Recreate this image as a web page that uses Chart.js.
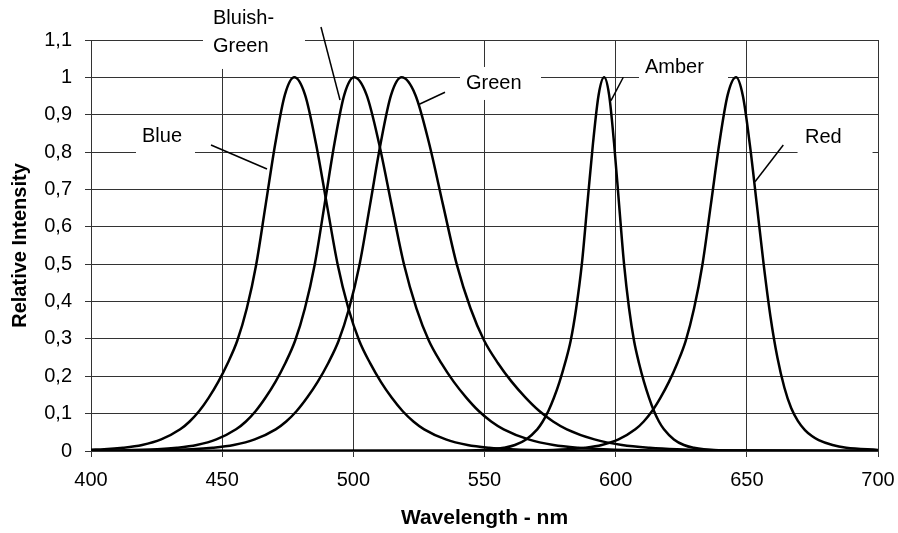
<!DOCTYPE html>
<html>
<head>
<meta charset="utf-8">
<script src="https://cdn.jsdelivr.net/npm/chart.js@4.4.1/dist/chart.umd.min.js"></script>
<style>
html, body { margin: 0; padding: 0; background: #fff; }
#wrap { width: 898px; height: 533px; }
</style>
</head>
<body>
<div id="wrap"><canvas id="chart" width="898" height="533"></canvas></div>
<script>
// ---- data (wavelength nm / relative intensity) ----
const xTicks = [400, 450, 500, 550, 600, 650, 700];
const yTicks = [0, 0.1, 0.2, 0.3, 0.4, 0.5, 0.6, 0.7, 0.8, 0.9, 1, 1.1];

const blueNm  = [400, 405, 412.25, 419.5, 426.75, 434, 437.6, 441.25, 444.9, 448.5, 452.1, 455.75, 459.4, 463, 466.6, 470.25, 473.9, 477.5, 481.6, 485.75, 489.9, 494, 498.1, 502.25, 506.4, 510.5, 514.6, 518.75, 522.9, 527, 535.25, 543.5, 551.75, 560, 576.5, 620, 700];
const blueVal = [0.0035, 0.0045, 0.0085, 0.016, 0.031, 0.058, 0.079, 0.107, 0.143, 0.185, 0.235, 0.295, 0.382, 0.5, 0.66, 0.823, 0.953, 1, 0.953, 0.823, 0.66, 0.5, 0.382, 0.295, 0.235, 0.185, 0.143, 0.107, 0.079, 0.058, 0.031, 0.016, 0.0085, 0.0045, 0.0015, 0.0004, 0.0001];

const bluishNm  = [400, 410.3, 425.3, 432.8, 440.3, 447.8, 455.3, 459.05, 462.8, 466.55, 470.3, 474.05, 477.8, 481.55, 485.3, 489.05, 492.8, 496.55, 500.3, 505.05, 509.8, 514.55, 519.3, 524.05, 528.8, 533.55, 538.3, 543.05, 547.8, 552.55, 557.3, 566.8, 576.3, 585.8, 595.3, 614.3, 700];
const bluishVal = [0.001, 0.0015, 0.0045, 0.0085, 0.016, 0.031, 0.058, 0.079, 0.107, 0.143, 0.185, 0.235, 0.295, 0.382, 0.5, 0.66, 0.823, 0.953, 1, 0.953, 0.823, 0.66, 0.5, 0.382, 0.295, 0.235, 0.185, 0.143, 0.107, 0.079, 0.058, 0.031, 0.016, 0.0085, 0.0045, 0.0015, 0.0002];

const greenNm  = [400, 422.4, 438.4, 446.4, 454.4, 462.4, 470.4, 474.4, 478.4, 482.4, 486.4, 490.4, 494.4, 498.4, 502.4, 506.4, 510.4, 514.4, 518.4, 523.65, 528.9, 534.15, 539.4, 544.65, 549.9, 555.15, 560.4, 565.65, 570.9, 576.15, 581.4, 591.9, 602.4, 612.9, 623.4, 644.4, 700];
const greenVal = [0.0005, 0.0015, 0.0045, 0.0085, 0.016, 0.031, 0.058, 0.079, 0.107, 0.143, 0.185, 0.235, 0.295, 0.382, 0.5, 0.66, 0.823, 0.953, 1, 0.953, 0.823, 0.66, 0.5, 0.382, 0.295, 0.235, 0.185, 0.143, 0.107, 0.079, 0.058, 0.031, 0.016, 0.0085, 0.0045, 0.0015, 0.0004];

const amberNm  = [400, 520, 544.6, 553.1, 557.35, 561.6, 565.85, 570.1, 572.2, 574.35, 576.5, 578.6, 580.7, 582.85, 584.95, 587.1, 589.2, 591.35, 593.5, 595.6, 597.5, 599.4, 601.3, 603.2, 605.1, 607, 608.9, 610.8, 612.7, 614.6, 616.5, 618.4, 622.2, 626, 629.8, 633.6, 641.2, 700];
const amberVal = [0.0001, 0.0004, 0.0015, 0.0045, 0.0085, 0.016, 0.031, 0.058, 0.079, 0.107, 0.143, 0.185, 0.235, 0.295, 0.382, 0.5, 0.66, 0.823, 0.953, 1, 0.953, 0.823, 0.66, 0.5, 0.382, 0.295, 0.235, 0.185, 0.143, 0.107, 0.079, 0.058, 0.031, 0.016, 0.0085, 0.0045, 0.0015, 0.0001];

const redNm  = [400, 540, 569.1, 581.9, 588.3, 594.7, 601.1, 607.5, 610.7, 613.9, 617.1, 620.3, 623.5, 626.7, 629.9, 633.1, 636.3, 639.5, 642.7, 645.9, 648.5, 651.15, 653.8, 656.4, 659, 661.65, 664.3, 666.9, 669.5, 672.15, 674.8, 677.4, 682.65, 687.9, 700];
const redVal = [0.0001, 0.0004, 0.0015, 0.0045, 0.0085, 0.016, 0.031, 0.058, 0.079, 0.107, 0.143, 0.185, 0.235, 0.295, 0.382, 0.5, 0.66, 0.823, 0.953, 1, 0.95, 0.82, 0.66, 0.5, 0.36, 0.25, 0.17, 0.115, 0.08, 0.056, 0.04, 0.029, 0.016, 0.009, 0.003];

const seriesNames = ['Blue', 'Bluish-Green', 'Green', 'Amber', 'Red'];

// ---- label boxes with leader lines, placed in data units ----
const notes = [
    { lines: ['Blue'], x: 419.44, y: [0.8271], box: [417.15, 439.64, 0.8833, 0.7789], lead: [445.74, 0.8191, 467.09, 0.7548] },
    { lines: ['Bluish-', 'Green'], x: 446.5, y: [1.1429, 1.068], box: [442.69, 481.57, 1.2072, 1.0225], lead: [487.67, 1.1349, 494.92, 0.9395] },
    { lines: ['Green'], x: 542.95, y: [0.9698], box: [540.66, 571.54, 1.0278, 0.9395], lead: [534.95, 0.9601, 525.15, 0.928] },
    { lines: ['Amber'], x: 611.18, y: [1.0126], box: [608.89, 642.82, 1.0867, 0.977], lead: [602.91, 1.0003, 598.22, 0.9376] },
    { lines: ['Red'], x: 672.18, y: [0.8252], box: [669.33, 697.92, 0.8833, 0.7789], lead: [663.9, 0.8191, 653.11, 0.7208] }
];

const FONT = "'Liberation Sans', Arial, sans-serif";
const GRID = '#333333';

function pts(xs, ys) {
    return xs.map((x, i) => ({ x: x, y: ys[i] }));
}

const curves = [
    pts(blueNm, blueVal),
    pts(bluishNm, bluishVal),
    pts(greenNm, greenVal),
    pts(amberNm, amberVal),
    pts(redNm, redVal)
];

// draws the white label boxes, texts and leader lines
const notesPlugin = {
    id: 'notes',
    afterDatasetsDraw(chart) {
        const ctx = chart.ctx;
        const xs = chart.scales.x, ys = chart.scales.y;
        ctx.save();
        notes.forEach(n => {
            const l = xs.getPixelForValue(n.box[0]), r = xs.getPixelForValue(n.box[1]);
            const t = ys.getPixelForValue(n.box[2]), b = ys.getPixelForValue(n.box[3]);
            ctx.fillStyle = '#fff';
            ctx.fillRect(l, t, r - l, b - t);

            ctx.strokeStyle = '#000';
            ctx.lineWidth = 1.5;
            ctx.beginPath();
            ctx.moveTo(xs.getPixelForValue(n.lead[0]), ys.getPixelForValue(n.lead[1]));
            ctx.lineTo(xs.getPixelForValue(n.lead[2]), ys.getPixelForValue(n.lead[3]));
            ctx.stroke();

            ctx.fillStyle = '#000';
            ctx.font = '20px ' + FONT;
            ctx.textAlign = 'left';
            ctx.textBaseline = 'alphabetic';
            n.lines.forEach((txt, i) => {
                ctx.fillText(txt, xs.getPixelForValue(n.x), ys.getPixelForValue(n.y[i]));
            });
        });
        ctx.restore();
    }
};

new Chart(document.getElementById('chart'), {
    type: 'line',
    data: {
        datasets: curves.map((d, i) => ({
            label: seriesNames[i],
            data: d,
            borderColor: '#000',
            borderWidth: 2.5,
            pointRadius: 0,
            fill: false,
            cubicInterpolationMode: 'monotone'
        }))
    },
    options: {
        responsive: false,
        animation: false,
        layout: { padding: { left: 0, right: 20, top: 40, bottom: 0 } },
        plugins: { legend: { display: false }, tooltip: { enabled: false } },
        scales: {
            x: {
                type: 'linear',
                min: xTicks[0],
                max: xTicks[xTicks.length - 1],
                afterBuildTicks: s => { s.ticks = xTicks.map(v => ({ value: v })); },
                afterFit: s => { s.height = 82; s.paddingLeft = 0; s.paddingRight = 0; },
                grid: { color: GRID, lineWidth: 1, tickLength: 6, tickColor: GRID },
                border: { display: true, color: GRID, width: 1 },
                ticks: { color: '#000', font: { family: FONT, size: 20 }, padding: 11, maxRotation: 0 },
                title: { display: true, text: 'Wavelength - nm', color: '#000', font: { family: FONT, size: 21, weight: 'bold' }, padding: { top: 0, bottom: 2 } }
            },
            y: {
                min: yTicks[0],
                max: yTicks[yTicks.length - 1],
                afterBuildTicks: s => { s.ticks = yTicks.map(v => ({ value: v })); },
                afterFit: s => { s.width = 91; s.paddingTop = 0; s.paddingBottom = 0; },
                grid: { color: GRID, lineWidth: 1, tickLength: 6, tickColor: GRID },
                border: { display: true, color: GRID, width: 1 },
                ticks: {
                    color: '#000',
                    font: { family: FONT, size: 20 },
                    padding: 13,
                    callback: v => String(Number(v.toFixed(1))).replace('.', ',')
                },
                title: { display: true, text: 'Relative Intensity', color: '#000', font: { family: FONT, size: 20, weight: 'bold' }, padding: { top: 8, bottom: 0 } }
            }
        }
    },
    plugins: [notesPlugin]
});
</script>
</body>
</html>
